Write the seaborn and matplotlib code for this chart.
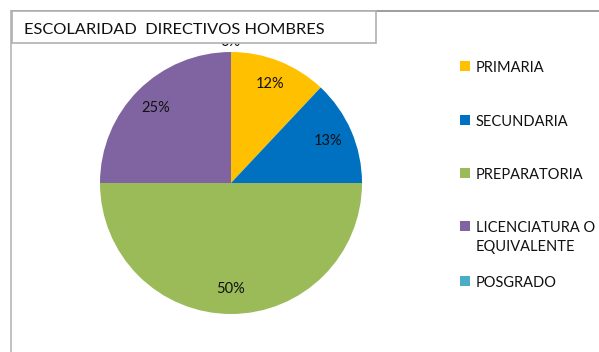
import matplotlib
matplotlib.use("Agg")
import matplotlib.pyplot as plt
from matplotlib.patches import Rectangle
from matplotlib.lines import Line2D
import seaborn as sns

# Data
categories = ["PRIMARIA", "SECUNDARIA", "PREPARATORIA", "LICENCIATURA O\nEQUIVALENTE", "POSGRADO"]
percentages = [12, 13, 50, 25, 0]
colors = ["#FFC000", "#0070C0", "#9BBB59", "#8064A2", "#4BACC6"]
title = "ESCOLARIDAD  DIRECTIVOS HOMBRES"

sns.set_theme(style="white")
plt.rcParams["font.family"] = ["Lato", "DejaVu Sans"]
palette = sns.color_palette(colors)

W, H = 599, 352
fig = plt.figure(figsize=(W / 100, H / 100), dpi=100)
fig.patch.set_facecolor("white")

# Pie axes: center (231, 183) px, radius 131 px
cx, cy, r = 231, 183, 131
ax = fig.add_axes([(cx - r) / W, (H - cy - r) / H, 2 * r / W, 2 * r / H])
wedges, texts, autotexts = ax.pie(
    percentages,
    colors=palette,
    startangle=90,
    counterclock=False,
    autopct=lambda p: f"{p:.0f}%",
    pctdistance=0.81,
    radius=1,
    textprops=dict(fontsize=10.5, color="#111111"),
    wedgeprops=dict(linewidth=0),
)
# The empty slice's label sits above the pie, under the title box
for val, t in zip(percentages, autotexts):
    if val == 0:
        t.set_position((0, 1.08))
ax.set_xlim(-1, 1)
ax.set_ylim(-1, 1)
ax.axis("off")


def px(x, y):
    return x / W, 1 - y / H


# Chart border (top and left edges visible)
fig.add_artist(Line2D([px(11, 0)[0], 1.0], [px(0, 11)[1]] * 2, color="#8c8c8c", lw=1.2))
fig.add_artist(Line2D([px(11, 0)[0]] * 2, [px(0, 11)[1], 0], color="#b5b5b5", lw=1.2))

# Title box
x0, y0, x1, y1 = 12, 11, 376, 43
title_box = Rectangle(px(x0, y1), (x1 - x0) / W, (y1 - y0) / H, transform=fig.transFigure,
                      facecolor="white", edgecolor="#b0b0b0", lw=1.2, zorder=5)
fig.add_artist(title_box)
fig.text(24 / W, 1 - 30.5 / H, title, fontsize=11.8, color="#111111",
         va="center", ha="left", zorder=6)

# Legend
legend_rows = [66, 120, 173, 226, 281]
for cat, col, yy in zip(categories, palette, legend_rows):
    fig.add_artist(Rectangle(px(460, yy + 5), 10 / W, 10 / H, transform=fig.transFigure,
                             facecolor=col, edgecolor="none"))
    fig.text(476 / W, 1 - (yy - 5) / H, cat, fontsize=10.5, color="#111111",
             va="top", ha="left", linespacing=1.45)

fig.savefig("out.png", dpi=100, facecolor="white")
